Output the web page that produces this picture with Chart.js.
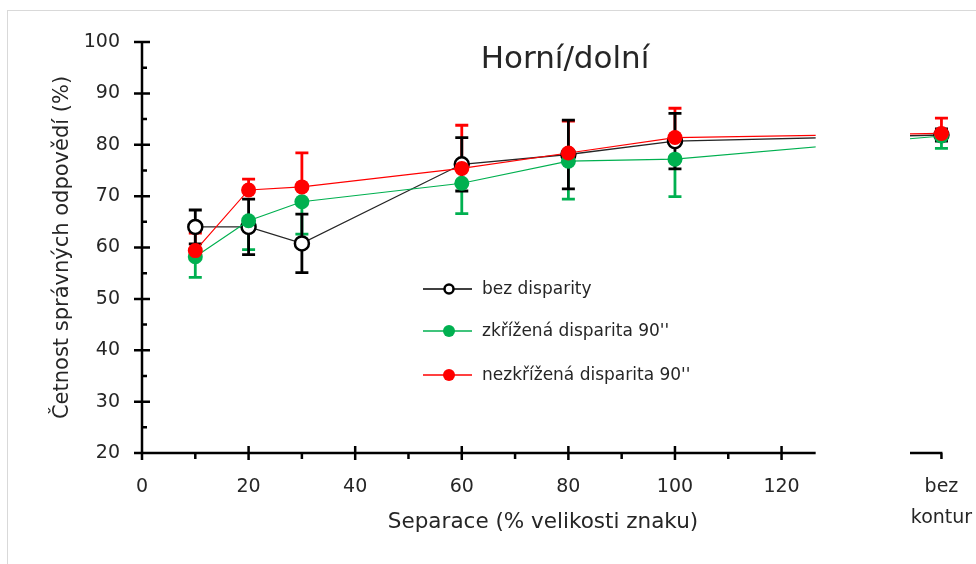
<!DOCTYPE html>
<html>
<head>
<meta charset="utf-8">
<script src="https://cdn.jsdelivr.net/npm/chart.js@4.4.1/dist/chart.umd.min.js"></script>
<style>
  html, body { margin: 0; padding: 0; background: #fff; }
  #wrap { position: relative; width: 976px; height: 564px; }
  #frame { position: absolute; left: 7px; top: 10px; width: 1000px; height: 600px; border-left: 1px solid #d9d9d9; border-top: 1px solid #d9d9d9; }
  #c { position: absolute; left: 0; top: 0; }
</style>
</head>
<body>
<div id="wrap">
  <div id="frame"></div>
  <canvas id="c" width="976" height="564"></canvas>
</div>
<script>
// separace (% velikosti znaku), 150 = "bez kontur"
const xValues = [10, 20, 30, 60, 80, 100, 150];

// bez disparity (chybove usecky na obe strany)
const bezDisparity    = [64.0, 64.0, 60.8, 76.2, 78.1, 80.7, 81.9];
const bezDisparityErr = [3.3, 5.4, 5.7, 5.2, 6.7, 5.4, 1.2];
// zkrizena disparita 90'' (jen dolu)
const zkrizena    = [58.2, 65.2, 68.9, 72.5, 76.8, 77.2, 81.7];
const zkrizenaErr = [4.0, 5.6, 6.3, 5.9, 7.4, 7.3, 2.4];
// nezkrizena disparita 90'' (jen nahoru)
const nezkrizena    = [59.4, 71.2, 71.8, 75.4, 78.4, 81.4, 82.2];
const nezkrizenaErr = [3.4, 2.1, 6.6, 8.4, 6.2, 5.7, 3.0];

const xTicks = [0, 20, 40, 60, 80, 100, 120, 150];
const xTickLabels = ['0', '20', '40', '60', '80', '100', '120', ['bez', 'kontur']];
const yTicks = [20, 30, 40, 50, 60, 70, 80, 90, 100];

const seriesNames = ['bez disparity', 'zkřížená disparita 90\'\'', 'nezkřížená disparita 90\'\''];
const FONT = 'DejaVu Sans';
const TEXT = '#262626';

// mezera v ose x mezi 120 a "bez kontur"
const gapFrom = 126.4, gapTo = 144.1;

function pts(vals) {
  return xValues.map((x, i) => ({ x: x, y: vals[i] }));
}

const errPlugin = {
  id: 'errbars',
  beforeDatasetsDraw(chart) {
    const ctx = chart.ctx, xs = chart.scales.x, ys = chart.scales.y;
    // orez mezery
    ctx.save();
    ctx.beginPath();
    ctx.rect(0, 0, xs.getPixelForValue(gapFrom), chart.height);
    ctx.rect(xs.getPixelForValue(gapTo), 0, chart.width, chart.height);
    ctx.clip();

    // [hodnoty, chyby, barva, nahoru, dolu]
    const sets = [
      [zkrizena, zkrizenaErr, '#00b050', false, true],
      [nezkrizena, nezkrizenaErr, '#ff0000', true, false],
      [bezDisparity, bezDisparityErr, '#000000', true, true]
    ];
    sets.forEach(s => {
      ctx.strokeStyle = s[2];
      ctx.lineWidth = 2.8;
      xValues.forEach((xv, i) => {
        const px = xs.getPixelForValue(xv);
        const mid = ys.getPixelForValue(s[0][i]);
        const top = s[3] ? ys.getPixelForValue(s[0][i] + s[1][i]) : mid;
        const bot = s[4] ? ys.getPixelForValue(s[0][i] - s[1][i]) : mid;
        ctx.beginPath();
        ctx.moveTo(px, top); ctx.lineTo(px, bot);
        if (s[3]) { ctx.moveTo(px - 6.5, top); ctx.lineTo(px + 6.5, top); }
        if (s[4]) { ctx.moveTo(px - 6.5, bot); ctx.lineTo(px + 6.5, bot); }
        ctx.stroke();
      });
    });
  },
  afterDatasetsDraw(chart) {
    chart.ctx.restore();
  }
};

const axesPlugin = {
  id: 'axes',
  afterDraw(chart) {
    const ctx = chart.ctx, xs = chart.scales.x, ys = chart.scales.y;
    const ax = xs.getPixelForValue(0);
    const ay = ys.getPixelForValue(20);
    ctx.save();
    ctx.strokeStyle = '#000';
    ctx.lineWidth = 2.5;
    ctx.lineCap = 'butt';
    ctx.beginPath();
    // osa y
    ctx.moveTo(ax, ay); ctx.lineTo(ax, ys.getPixelForValue(100) - 1);
    yTicks.forEach(v => {
      const p = ys.getPixelForValue(v);
      ctx.moveTo(ax - 8, p); ctx.lineTo(ax + 8, p);
    });
    for (let v = 25; v < 100; v += 10) {
      const p = ys.getPixelForValue(v);
      ctx.moveTo(ax, p); ctx.lineTo(ax + 5, p);
    }
    // osa x
    ctx.moveTo(ax, ay); ctx.lineTo(xs.getPixelForValue(gapFrom), ay);
    ctx.moveTo(xs.getPixelForValue(gapTo), ay); ctx.lineTo(xs.getPixelForValue(150) + 1, ay);
    xTicks.forEach(v => {
      const p = xs.getPixelForValue(v);
      if (v === 150) { ctx.moveTo(p, ay); ctx.lineTo(p, ay + 6); return; }
      ctx.moveTo(p, ay - 7); ctx.lineTo(p, ay + 7);
    });
    for (let v = 10; v < 120; v += 20) {
      const p = xs.getPixelForValue(v);
      ctx.moveTo(p, ay); ctx.lineTo(p, ay + 6);
    }
    ctx.stroke();

    ctx.fillStyle = TEXT;
    ctx.textAlign = 'center';
    ctx.textBaseline = 'alphabetic';
    // nadpis
    ctx.font = '31px "' + FONT + '"';
    ctx.fillText('Horní/dolní', 565, 68);
    // popis osy x
    ctx.font = '21.5px "' + FONT + '"';
    ctx.fillText('Separace (% velikosti znaku)', 543, 528);

    // legenda
    const rows = [
      [289, '#000000', true],
      [331, '#00b050', false],
      [375, '#ff0000', false]
    ];
    ctx.font = '17px "' + FONT + '"';
    ctx.textAlign = 'left';
    ctx.textBaseline = 'middle';
    rows.forEach((r, i) => {
      ctx.strokeStyle = r[1];
      ctx.lineWidth = 1.3;
      ctx.beginPath();
      ctx.moveTo(423, r[0]); ctx.lineTo(472, r[0]);
      ctx.stroke();
      ctx.beginPath();
      ctx.arc(449, r[0], r[2] ? 4.5 : 6, 0, Math.PI * 2);
      if (r[2]) {
        ctx.fillStyle = '#fff'; ctx.fill();
        ctx.lineWidth = 2.5; ctx.strokeStyle = '#000'; ctx.stroke();
      } else {
        ctx.fillStyle = r[1]; ctx.fill();
      }
      ctx.fillStyle = TEXT;
      ctx.fillText(seriesNames[i], 482, r[0] + 1);
    });
    ctx.restore();
  }
};

new Chart(document.getElementById('c'), {
  type: 'line',
  data: {
    datasets: [
      {
        label: seriesNames[0],
        data: pts(bezDisparity),
        borderColor: '#262626',
        borderWidth: 1.3,
        pointRadius: 7,
        pointBorderWidth: 2.5,
        pointBorderColor: '#000',
        pointBackgroundColor: '#fff',
        order: 3
      },
      {
        label: seriesNames[1],
        data: pts(zkrizena),
        borderColor: '#00b050',
        borderWidth: 1.2,
        pointRadius: 7.5,
        pointBorderWidth: 0,
        pointBackgroundColor: '#00b050',
        order: 2
      },
      {
        label: seriesNames[2],
        data: pts(nezkrizena),
        borderColor: '#ff0000',
        borderWidth: 1.2,
        pointRadius: 7.5,
        pointBorderWidth: 0,
        pointBackgroundColor: '#ff0000',
        order: 1
      }
    ]
  },
  options: {
    responsive: false,
    animation: false,
    devicePixelRatio: 1,
    layout: { padding: { left: 46, right: 0, top: 42, bottom: 0 } },
    plugins: {
      legend: { display: false },
      tooltip: { enabled: false },
      title: { display: false }
    },
    scales: {
      x: {
        type: 'linear',
        min: 0,
        max: 154.7,
        grid: { display: false, drawTicks: false },
        border: { display: false },
        afterBuildTicks: s => { s.ticks = xTicks.map(v => ({ value: v })); },
        afterFit: s => { s.height = 111; s.paddingLeft = 0; s.paddingRight = 0; },
        ticks: {
          autoSkip: false,
          maxRotation: 0,
          padding: 19,
          color: TEXT,
          font: { family: FONT, size: 19, lineHeight: 1.6 },
          callback: v => xTickLabels[xTicks.indexOf(v)]
        },
        title: { display: false }
      },
      y: {
        min: 20,
        max: 100,
        grid: { display: false, drawTicks: false },
        border: { display: false },
        afterBuildTicks: s => { s.ticks = yTicks.map(v => ({ value: v })); },
        afterFit: s => { s.width = 96; s.paddingTop = 0; s.paddingBottom = 0; },
        ticks: {
          padding: 22,
          color: TEXT,
          font: { family: FONT, size: 19 }
        },
        title: {
          display: true,
          text: 'Četnost správných odpovědí (%)',
          color: TEXT,
          font: { family: FONT, size: 21 },
          padding: { top: 4, bottom: 0 }
        }
      }
    }
  },
  plugins: [errPlugin, axesPlugin]
});
</script>
</body>
</html>
